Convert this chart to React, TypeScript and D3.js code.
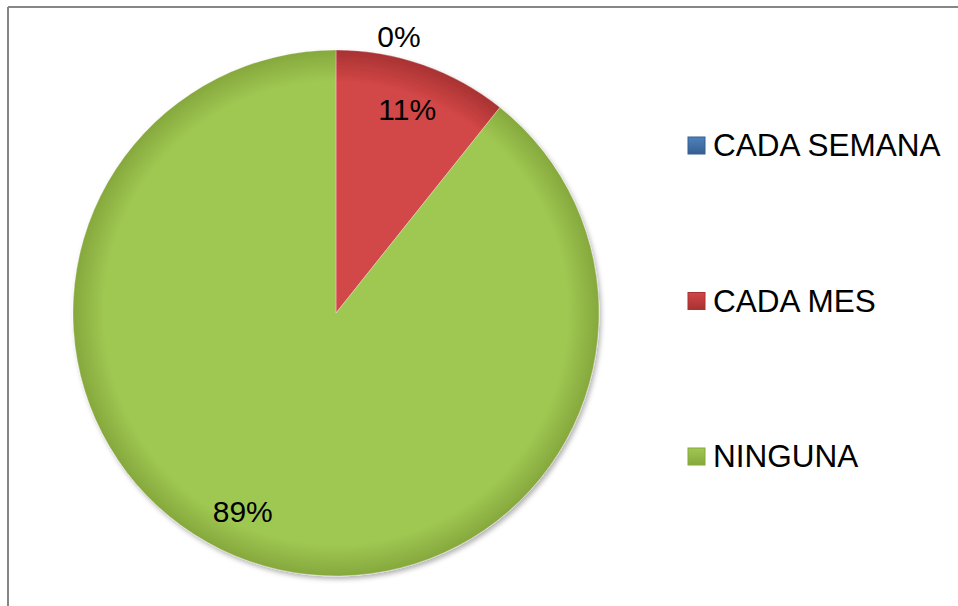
import React from "react";
import * as d3 from "d3";

const categories = ["CADA SEMANA", "CADA MES", "NINGUNA"];
const values = [0, 3, 25];
const colors = ["#4F81BD", "#D24646", "#9FC852"];
const darkColors = ["#365F91", "#A83232", "#86A83D"];
const labelOffsets = [
  { dx: 63, dy: 0 },
  { dx: 0, dy: 0 },
  { dx: -22, dy: -5 },
];

const W = 958;
const H = 606;
const cx = 336;
const cy = 313;
const r = 263;

export default function App() {
  const total = d3.sum(values);
  const pie = d3.pie<number>().sort(null).value((d) => d);
  const arcs = pie(values);
  const arc = d3.arc<d3.PieArcDatum<number>>().innerRadius(0).outerRadius(r);
  const labelArc = d3
    .arc<d3.PieArcDatum<number>>()
    .innerRadius(r * 0.82)
    .outerRadius(r * 0.82);
  const outerLabelArc = d3
    .arc<d3.PieArcDatum<number>>()
    .innerRadius(r + 14)
    .outerRadius(r + 14);

  const legendY = d3
    .scalePoint<string>()
    .domain(categories)
    .range([145, 456]);

  return (
    <svg
      width={W}
      height={H}
      style={{ position: "absolute", left: 0, top: 0, background: "#fff" }}
      fontFamily="'Liberation Sans', Arial, sans-serif"
    >
      <defs>
        {colors.map((c, i) => (
          <radialGradient
            key={i}
            id={`g${i}`}
            cx={0}
            cy={0}
            r={r}
            gradientUnits="userSpaceOnUse"
          >
            <stop offset="0%" stopColor={c} />
            <stop offset="88%" stopColor={c} />
            <stop offset="100%" stopColor={darkColors[i]} />
          </radialGradient>
        ))}
        {colors.map((c, i) => (
          <linearGradient key={`l${i}`} id={`lg${i}`} x1="0" y1="0" x2="0" y2="1">
            <stop offset="0%" stopColor={c} />
            <stop offset="100%" stopColor={darkColors[i]} />
          </linearGradient>
        ))}
        <filter id="shadow" x="-10%" y="-10%" width="120%" height="120%">
          <feDropShadow dx="2" dy="3" stdDeviation="2.5" floodColor="#000" floodOpacity="0.3" />
        </filter>
      </defs>

      <line x1={8} y1={7} x2={W} y2={7} stroke="#868686" strokeWidth={2} />
      <line x1={8} y1={7} x2={8} y2={H} stroke="#868686" strokeWidth={2} />

      <g transform={`translate(${cx},${cy})`} filter="url(#shadow)">
        {arcs.map((a, i) =>
          a.value > 0 ? (
            <path
              key={i}
              d={arc(a) || ""}
              fill={`url(#g${i})`}
              stroke="rgba(255,255,255,0.3)"
              strokeWidth={1}
            />
          ) : null
        )}
      </g>

      <g transform={`translate(${cx},${cy})`} fontSize={30} fill="#000">
        {arcs.map((a, i) => {
          const p = a.value > 0 ? labelArc.centroid(a) : outerLabelArc.centroid(a);
          const pct = Math.round((a.value / total) * 100) + "%";
          return (
            <text
              key={i}
              x={p[0] + labelOffsets[i].dx}
              y={p[1] + labelOffsets[i].dy}
              textAnchor="middle"
              dominantBaseline="central"
            >
              {pct}
            </text>
          );
        })}
      </g>

      <g>
        {categories.map((c, i) => {
          const y = legendY(c) as number;
          return (
            <g key={c} transform={`translate(688,${y})`}>
              <rect
                x={0}
                y={-8}
                width={17}
                height={17}
                fill={`url(#lg${i})`}
                stroke={darkColors[i]}
                strokeWidth={1}
              />
              <text x={25} y={0} fontSize={31.5} dominantBaseline="central" fill="#000">
                {c}
              </text>
            </g>
          );
        })}
      </g>
    </svg>
  );
}
